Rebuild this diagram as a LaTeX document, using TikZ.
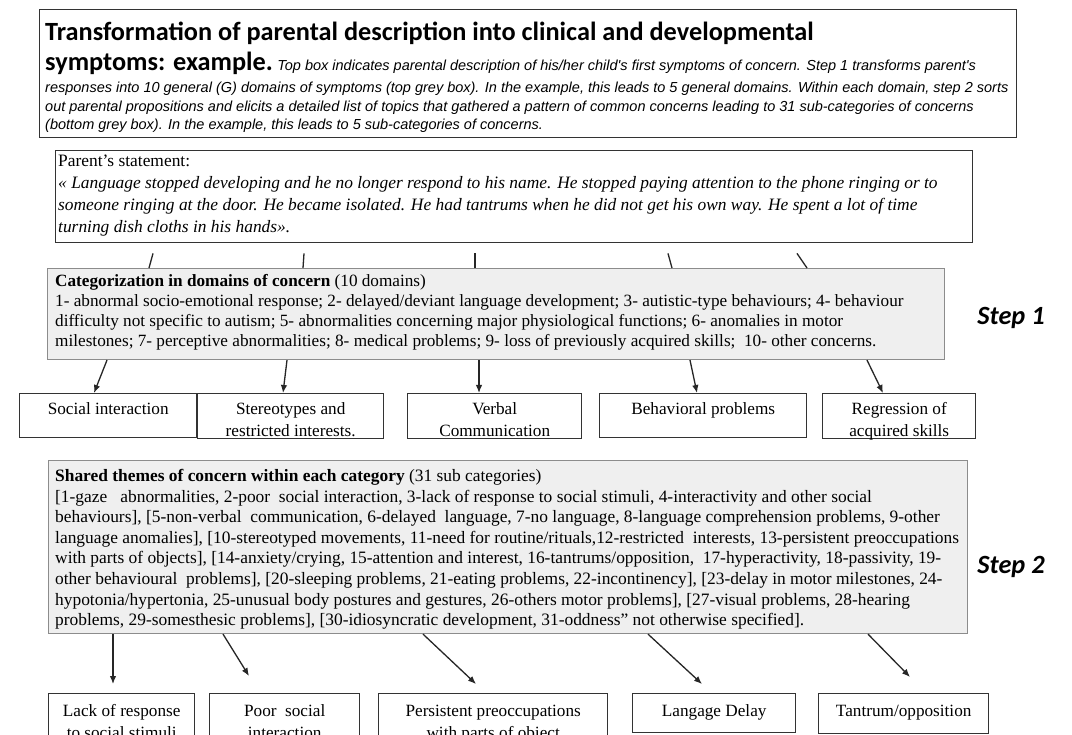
\documentclass[tikz,border=0pt]{standalone}
\usepackage{fontspec}
\setmainfont{Liberation Serif}
\newfontfamily\calibri{Carlito}
\newfontfamily\arialf{Liberation Sans}
\usetikzlibrary{arrows.meta}
\definecolor{boxline}{HTML}{333333}
\definecolor{greyfill}{HTML}{EFEFEF}
\definecolor{greyline}{HTML}{8C8C8C}
\begin{document}
\begin{tikzpicture}[x=1pt,y=-1pt,
  wbox/.style={draw=boxline, line width=1.4pt, fill=white, rectangle, inner sep=0pt, anchor=north west},
  gbox/.style={draw=greyline, line width=1.1pt, fill=greyfill, rectangle, inner sep=0pt, anchor=north west},
  txt/.style={inner sep=0pt, font=\fontsize{17.2}{20.1}\selectfont},
  boxtxt/.style={inner sep=0pt, anchor=north, align=center, font=\fontsize{17.2}{22}\selectfont},
  ttl/.style={inner sep=0pt, anchor=base west, font=\calibri\bfseries\fontsize{26.3}{30}\selectfont},
  captxt/.style={inner sep=0pt, anchor=base west, font=\arialf\itshape\fontsize{14.5}{19}\selectfont},
  steplabel/.style={inner sep=0pt, font=\calibri\bfseries\itshape\fontsize{26.3}{30}\selectfont},
  arr/.style={-{Latex[length=8pt,width=6.5pt]}, line width=1.3pt, draw=black!85},
  tick/.style={line width=1.3pt, draw=black!85}]
\clip (0,0) rectangle (1072,735);
\fill[white] (0,0) rectangle (1072,735);

% title box
\node[wbox, minimum width=977pt, minimum height=128pt] (tbox) at (39,9) {};
\node[ttl] (t1) at (45,41) {Transformation of parental description into clinical and developmental};
\node[ttl] (t2) at (45,71) {symptoms: example.};
\node[captxt, anchor=base west] (t2b) at (t2.base east) {\ Top box indicates parental description of his/her child's first symptoms of concern. Step 1 transforms parent's};
\node[captxt] (t3) at (45,93) {responses into 10 general (G) domains of symptoms (top grey box). In the example, this leads to 5 general domains. Within each domain, step 2 sorts};
\node[captxt] (t4) at (45,112) {out parental propositions and elicits a detailed list of topics that gathered a pattern of common concerns leading to 31 sub-categories of concerns};
\node[captxt] (t5) at (45,130) {(bottom grey box). In the example, this leads to 5 sub-categories of concerns.};

% parent statement
\node[wbox, minimum width=917pt, minimum height=92pt] (par) at (55,150) {};
\node[txt, anchor=north west, align=left, font=\fontsize{17.4}{22}\selectfont] (part) at (58,155)
 {Parent’s statement:\\
  \itshape « Language stopped developing and he no longer respond to his name. He stopped paying attention to the phone ringing or to\\
  \itshape someone ringing at the door. He became isolated. He had tantrums when he did not get his own way. He spent a lot of time\\
  \itshape turning dish cloths in his hands».};

% categorization
\node[gbox, minimum width=897pt, minimum height=91pt] (cat) at (47,268) {};
\node[txt, anchor=north west, align=left] (catt) at (55,274)
 {\textbf{Categorization in domains of concern} (10 domains)\\
  1- abnormal socio-emotional response; 2- delayed/deviant language development; 3- autistic-type behaviours; 4- behaviour\\
  difficulty not specific to autism; 5- abnormalities concerning major physiological functions; 6- anomalies in motor\\
  milestones; 7- perceptive abnormalities; 8- medical problems; 9- loss of previously acquired skills;\ \ 10- other concerns.};
\node[steplabel] (s1) at (1011,318) {Step 1};

% ticks parent -> categorization
\draw[tick] ([xshift=98pt,yshift=-10pt]par.south west) -- ([xshift=102pt]cat.north west);
\draw[tick] ([xshift=249pt,yshift=-10pt]par.south west) -- ([xshift=256pt]cat.north west);
\draw[tick] ([xshift=420pt,yshift=-10pt]par.south west) -- ([xshift=428pt]cat.north west);
\draw[tick] ([xshift=613pt,yshift=-10pt]par.south west) -- ([xshift=625pt]cat.north west);
\draw[tick] ([xshift=742pt,yshift=-10pt]par.south west) -- ([xshift=760pt]cat.north west);

% row 1 boxes
\node[wbox, minimum width=177pt, minimum height=44pt] (si) at (19,393) {};
\node[wbox, minimum width=186pt, minimum height=45pt] (st) at (197,393) {};
\node[wbox, minimum width=174pt, minimum height=45pt] (vc) at (407,393) {};
\node[wbox, minimum width=207pt, minimum height=44pt] (bp) at (599,393) {};
\node[wbox, minimum width=153pt, minimum height=45pt] (rg) at (822,393) {};
\node[boxtxt] (sit) at ([yshift=-6pt]si.north) {\strut Social interaction};
\node[boxtxt] (stt) at ([yshift=-6pt]st.north) {\strut Stereotypes and\\restricted interests.};
\node[boxtxt] (vct) at ([yshift=-6pt]vc.north) {\strut Verbal\\Communication};
\node[boxtxt] (bpt) at ([yshift=-6pt]bp.north) {\strut Behavioral problems};
\node[boxtxt] (rgt) at ([yshift=-6pt]rg.north) {\strut Regression of\\acquired skills};

\draw[arr] ([xshift=60pt]cat.south west) -- ([xshift=75pt]si.north west);
\draw[arr] ([xshift=240pt]cat.south west) -- ([xshift=86pt]st.north west);
\draw[arr] ([xshift=432pt]cat.south west) -- ([xshift=72pt]vc.north west);
\draw[arr] ([xshift=643pt]cat.south west) -- ([xshift=98pt]bp.north west);
\draw[arr] ([xshift=820pt]cat.south west) -- ([xshift=61pt]rg.north west);

% shared themes
\node[gbox, minimum width=919pt, minimum height=173pt] (th) at (48,460) {};
\node[txt, anchor=north west, align=left, font=\fontsize{17.4}{20.6}\selectfont] (tht) at (55,469)
 {\textbf{Shared themes of concern within each category} (31 sub categories)\\{}[1-gaze\ \ \ abnormalities, 2-poor\ \ social interaction, 3-lack of response to social stimuli, 4-interactivity and other social\\
  behaviours], [5-non-verbal\ \ communication, 6-delayed\ \ language, 7-no language, 8-language comprehension problems, 9-other\\
  language anomalies], [10-stereotyped movements, 11-need for routine/rituals,12-restricted\ \ interests, 13-persistent preoccupations\\
  with parts of objects], [14-anxiety/crying, 15-attention and interest, 16-tantrums/opposition,\ \ 17-hyperactivity, 18-passivity, 19-\\
  other behavioural\ \ problems], [20-sleeping problems, 21-eating problems, 22-incontinency], [23-delay in motor milestones, 24-\\
  hypotonia/hypertonia, 25-unusual body postures and gestures, 26-others motor problems], [27-visual problems, 28-hearing\\
  problems, 29-somesthesic problems], [30-idiosyncratic development, 31-oddness” not otherwise specified].};
\node[steplabel] (s2) at (1011,567) {Step 2};

% row 2 boxes
\node[wbox, minimum width=146pt, minimum height=60pt] (lr) at (48,693) {};
\node[wbox, minimum width=150pt, minimum height=60pt] (ps) at (209,693) {};
\node[wbox, minimum width=229pt, minimum height=60pt] (pp) at (378,693) {};
\node[wbox, minimum width=163pt, minimum height=39pt] (ld) at (632,693) {};
\node[wbox, minimum width=170pt, minimum height=40pt] (tt) at (818,693) {};
\node[boxtxt] (lrt) at ([yshift=-8pt]lr.north) {\strut Lack of response\\to social stimuli};
\node[boxtxt] (pst) at ([yshift=-8pt]ps.north) {\strut Poor\ \ social\\interaction};
\node[boxtxt] (ppt) at ([yshift=-8pt]pp.north) {\strut Persistent preoccupations\\with parts of object};
\node[boxtxt] (ldt) at ([yshift=-8pt]ld.north) {\strut Langage Delay};
\node[boxtxt] (ttt) at ([yshift=-8pt]tt.north) {\strut Tantrum/opposition};

\draw[arr] ([xshift=65pt]th.south west) -- ([xshift=65pt,yshift=9pt]lr.north west);
\draw[arr] ([xshift=175pt]th.south west) -- ([xshift=40pt,yshift=17pt]ps.north west);
\draw[arr] ([xshift=375pt]th.south west) -- ([xshift=98pt,yshift=9pt]pp.north west);
\draw[arr] ([xshift=600pt]th.south west) -- ([xshift=70pt,yshift=9pt]ld.north west);
\draw[arr] ([xshift=820pt]th.south west) -- ([xshift=92pt,yshift=16pt]tt.north west);
\end{tikzpicture}
\end{document}
